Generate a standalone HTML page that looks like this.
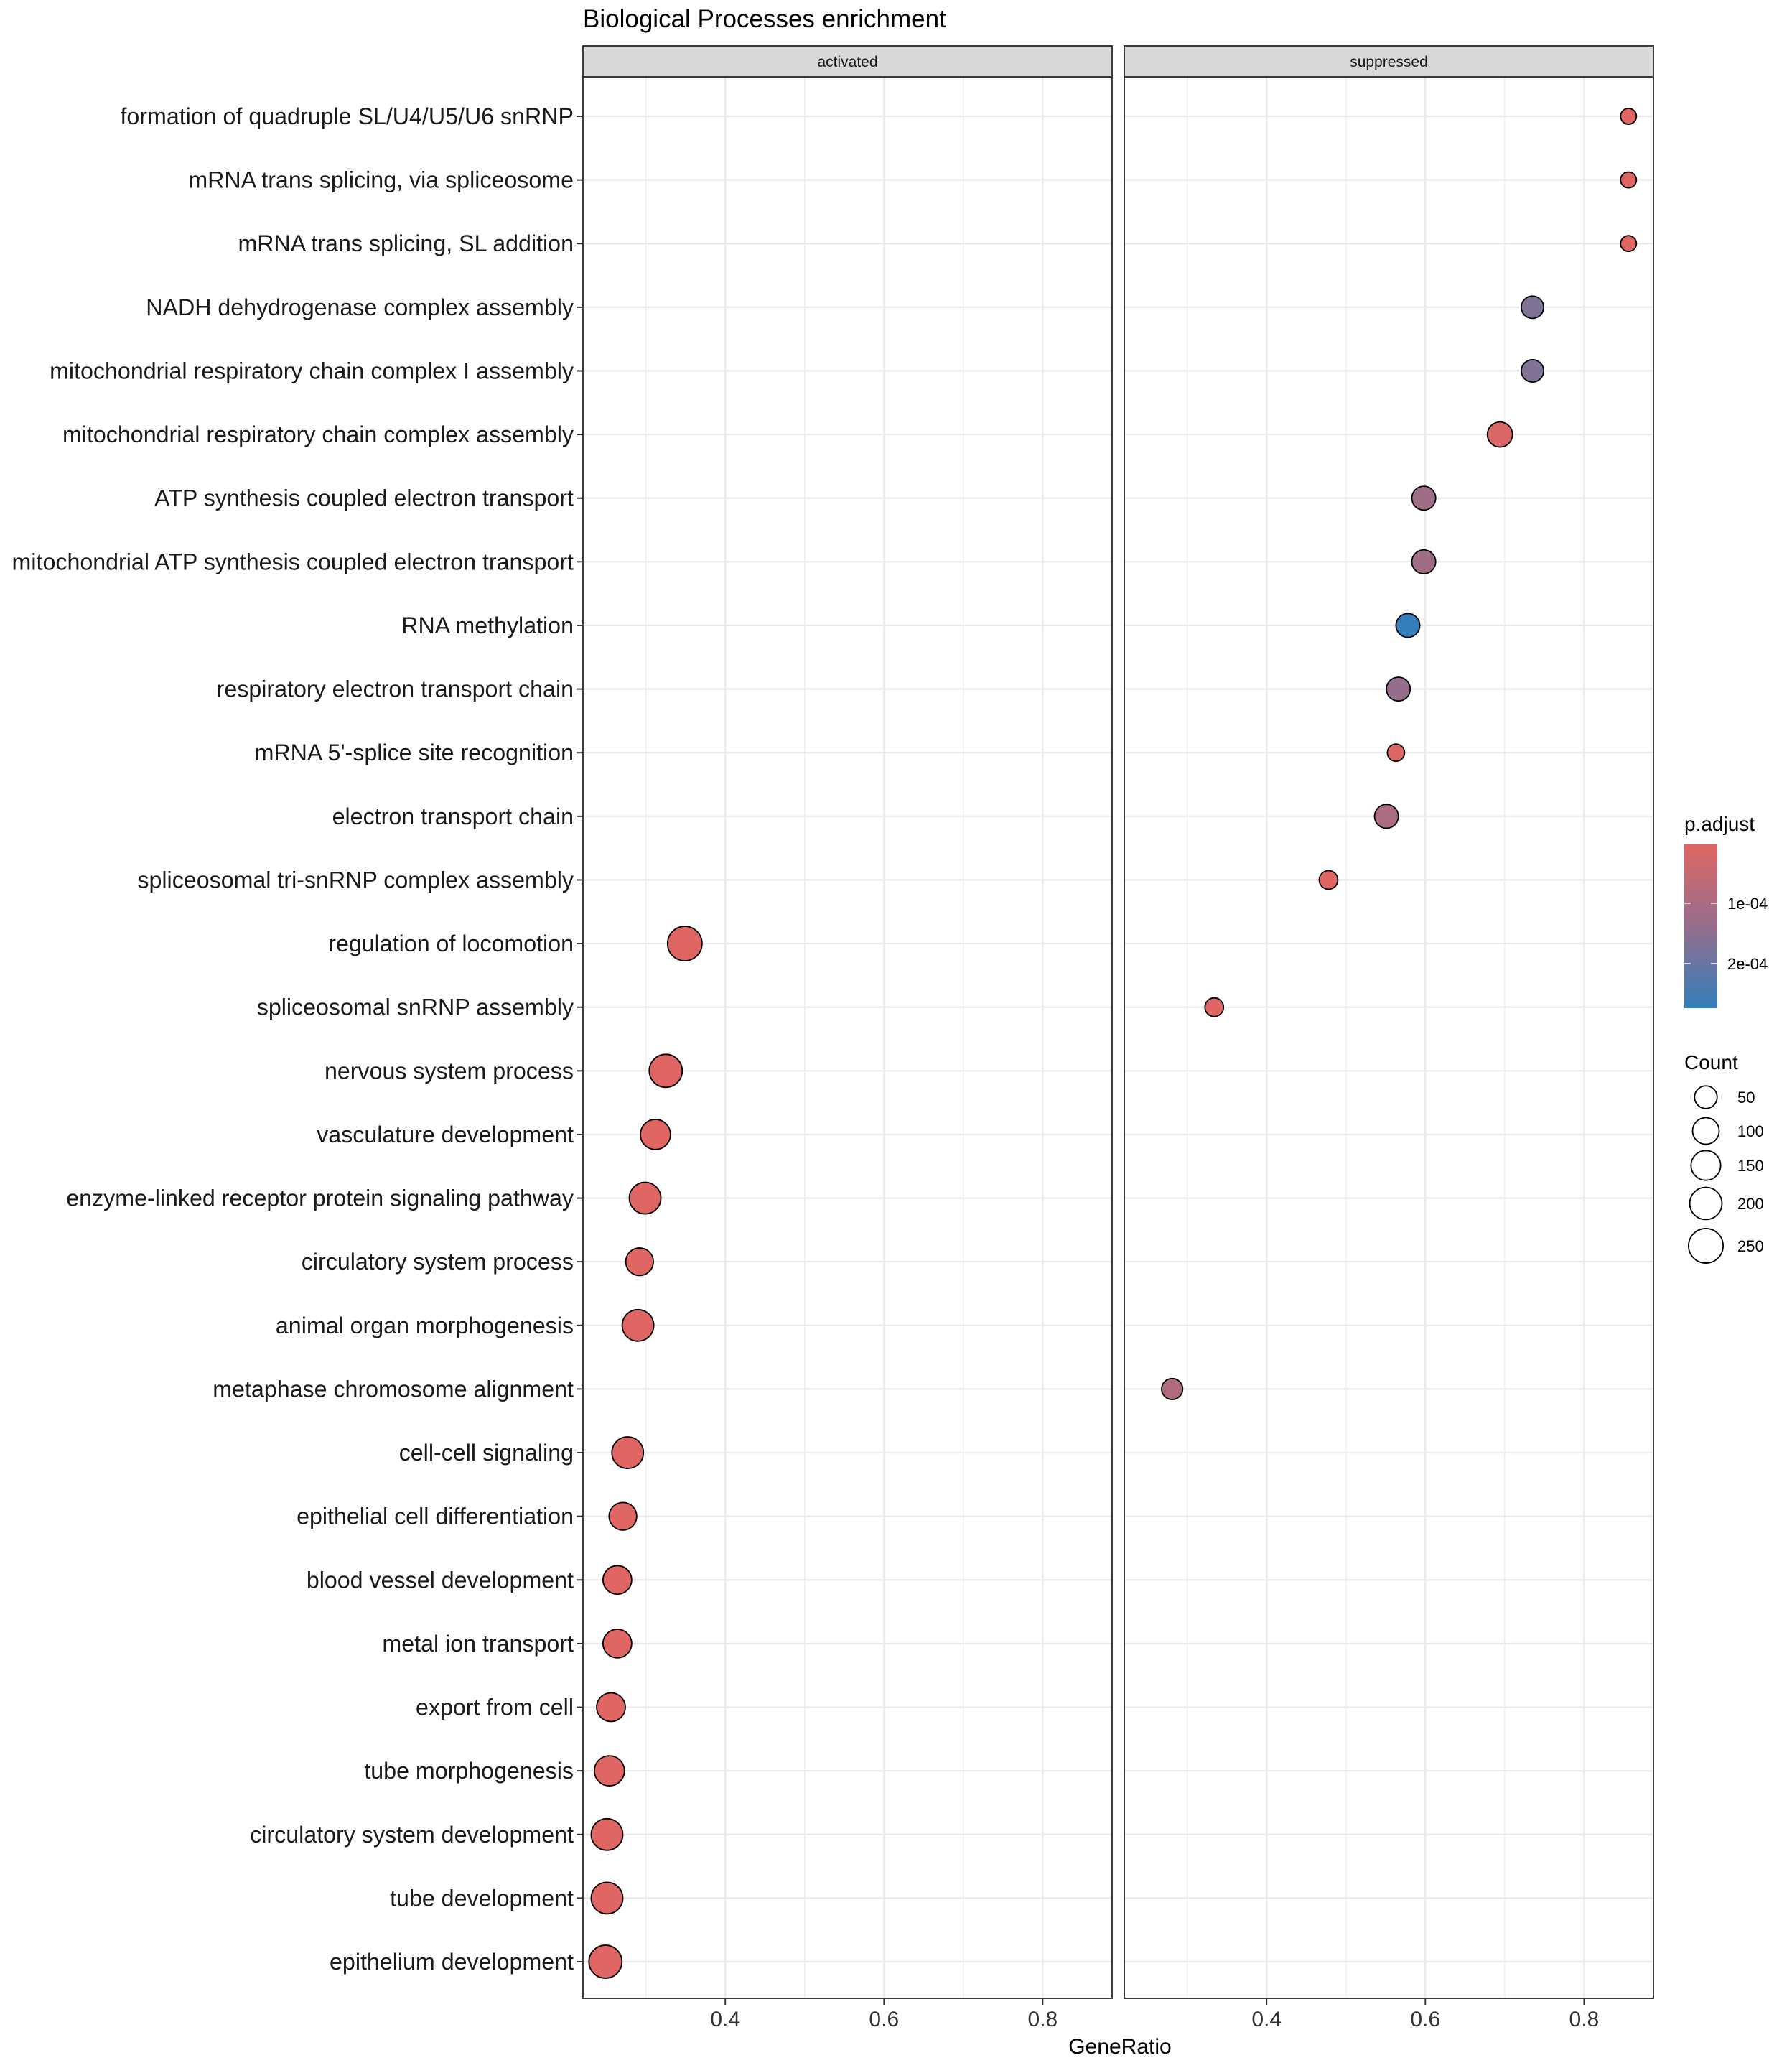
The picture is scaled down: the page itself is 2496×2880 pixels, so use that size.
<!DOCTYPE html>
<html><head><meta charset="utf-8"><style>
html,body{margin:0;padding:0;background:#fff;}
svg{display:block;font-family:"Liberation Sans",Arial,sans-serif;}
</style></head><body>
<svg id="chart" width="2496" height="2880" viewBox="0 0 2496 2880" xmlns="http://www.w3.org/2000/svg">
<rect x="0" y="0" width="2496" height="2880" fill="#fff"/>
<text x="812" y="38" font-size="35" fill="#000">Biological Processes enrichment</text>
</svg>
<script>
const categories = ["formation of quadruple SL/U4/U5/U6 snRNP","mRNA trans splicing, via spliceosome","mRNA trans splicing, SL addition","NADH dehydrogenase complex assembly","mitochondrial respiratory chain complex I assembly","mitochondrial respiratory chain complex assembly","ATP synthesis coupled electron transport","mitochondrial ATP synthesis coupled electron transport","RNA methylation","respiratory electron transport chain","mRNA 5'-splice site recognition","electron transport chain","spliceosomal tri-snRNP complex assembly","regulation of locomotion","spliceosomal snRNP assembly","nervous system process","vasculature development","enzyme-linked receptor protein signaling pathway","circulatory system process","animal organ morphogenesis","metaphase chromosome alignment","cell-cell signaling","epithelial cell differentiation","blood vessel development","metal ion transport","export from cell","tube morphogenesis","circulatory system development","tube development","epithelium development"];
const panels = ["activated","suppressed"];
const pointCategory = ["formation of quadruple SL/U4/U5/U6 snRNP","mRNA trans splicing, via spliceosome","mRNA trans splicing, SL addition","NADH dehydrogenase complex assembly","mitochondrial respiratory chain complex I assembly","mitochondrial respiratory chain complex assembly","ATP synthesis coupled electron transport","mitochondrial ATP synthesis coupled electron transport","RNA methylation","respiratory electron transport chain","mRNA 5'-splice site recognition","electron transport chain","spliceosomal tri-snRNP complex assembly","regulation of locomotion","spliceosomal snRNP assembly","nervous system process","vasculature development","enzyme-linked receptor protein signaling pathway","circulatory system process","animal organ morphogenesis","metaphase chromosome alignment","cell-cell signaling","epithelial cell differentiation","blood vessel development","metal ion transport","export from cell","tube morphogenesis","circulatory system development","tube development","epithelium development"];
const pointPanel = ["suppressed","suppressed","suppressed","suppressed","suppressed","suppressed","suppressed","suppressed","suppressed","suppressed","suppressed","suppressed","suppressed","activated","suppressed","activated","activated","activated","activated","activated","suppressed","activated","activated","activated","activated","activated","activated","activated","activated","activated"];
const geneRatio = [0.856,0.856,0.856,0.735,0.735,0.694,0.598,0.598,0.578,0.566,0.563,0.551,0.478,0.349,0.334,0.325,0.312,0.299,0.292,0.290,0.281,0.277,0.271,0.264,0.264,0.256,0.254,0.251,0.251,0.249];
const countVals = [4,4,4,45,45,75,60,60,60,60,9,60,16,236,16,205,150,177,110,177,33,177,110,126,126,126,150,177,177,205];
const pAdjust = [0.000003,0.000003,0.000003,0.00017,0.00017,0.000012,0.00012,0.00012,0.00027,0.00014,0.000003,0.00010,0.000003,0.000003,0.000003,0.000003,0.000003,0.000003,0.000003,0.000003,0.00009,0.000003,0.000003,0.000003,0.000003,0.000003,0.000003,0.000003,0.000003,0.000003];
const xTicks = [0.4,0.6,0.8];
const xTickLabels = ["0.4","0.6","0.8"];
const xMinor = [0.3,0.5,0.7];
const colorTicks = [0.0001,0.0002];
const colorTickLabels = ["1e-04","2e-04"];
const sizeBreaks = [50,100,150,200,250];

const NS="http://www.w3.org/2000/svg";
const svg=document.getElementById('chart');
function mk(tag,attrs,parent){const e=document.createElementNS(NS,tag);for(const k in attrs)e.setAttribute(k,attrs[k]);(parent||svg).appendChild(e);return e;}

const panelX={activated:812,suppressed:1566};
const panelW=737, panelTop=107, panelBot=2783, stripTop=64;
const xDom=[0.2207,0.8874];
function xScale(panel,v){return panelX[panel]+(v-xDom[0])/(xDom[1]-xDom[0])*panelW;}
const yFirst=162, yStep=(2732-162)/29;
function yScale(cat){return yFirst+categories.indexOf(cat)*yStep;}
function rScale(c){return 9.1+0.97*Math.sqrt(c);}
const pMin=0.0000024, pMax=0.000274;
const lo=[224,102,99], mid=[150,110,140], hi=[50,126,186];
function colorScale(p){let t=(p-pMin)/(pMax-pMin);t=Math.max(0,Math.min(1,t));
  let a,b,u; if(t<0.5){a=lo;b=mid;u=t*2;}else{a=mid;b=hi;u=(t-0.5)*2;}
  const c=a.map((x,i)=>Math.round(x+(b[i]-x)*u));return `rgb(${c[0]},${c[1]},${c[2]})`;}
function pToY(p){return 1176+(p-pMin)/(pMax-pMin)*(1404-1176);}

panels.forEach(pn=>{
  const g=mk('g',{});
  
  
  const px=panelX[pn];
  mk('rect',{x:px,y:panelTop,width:panelW,height:panelBot-panelTop,fill:'#fff'},g);
  xMinor.forEach(v=>{mk('line',{x1:xScale(pn,v),x2:xScale(pn,v),y1:panelTop,y2:panelBot,stroke:'#ebebeb','stroke-width':1.2},g);});
  xTicks.forEach(v=>{mk('line',{x1:xScale(pn,v),x2:xScale(pn,v),y1:panelTop,y2:panelBot,stroke:'#ebebeb','stroke-width':2.4},g);});
  categories.forEach(c=>{mk('line',{x1:px,x2:px+panelW,y1:yScale(c),y2:yScale(c),stroke:'#ebebeb','stroke-width':2.4},g);});
  mk('rect',{x:px,y:panelTop,width:panelW,height:panelBot-panelTop,fill:'none',stroke:'#333','stroke-width':1.9},g);
  const strip=mk('rect',{x:px,y:stripTop,width:panelW,height:panelTop-stripTop,fill:'#d9d9d9',stroke:'#333','stroke-width':1.9},g);
  
  
  const st=mk('text',{x:px+panelW/2,y:93,'font-size':21,'text-anchor':'middle',fill:'#1a1a1a'},g);
  st.textContent=pn;
  
  
  xTicks.forEach((v,i)=>{
    const x=xScale(pn,v);
    mk('line',{x1:x,x2:x,y1:panelBot,y2:panelBot+9,stroke:'#333','stroke-width':1.9},g);
    const t=mk('text',{x:x,y:panelBot+39,'font-size':30,'text-anchor':'middle',fill:'#333'},g);
    t.textContent=xTickLabels[i];
    
    
  });
});

categories.forEach(c=>{
  const y=yScale(c);
  mk('line',{x1:803,x2:812,y1:y,y2:y,stroke:'#333','stroke-width':1.9});
  const t=mk('text',{x:799,y:y+11,'font-size':32.2,'text-anchor':'end',fill:'#1a1a1a'});
  t.textContent=c;
  
  
});

pointCategory.forEach((c,i)=>{
  const pt=mk('circle',{cx:xScale(pointPanel[i],geneRatio[i]),cy:yScale(c),r:rScale(countVals[i]),fill:colorScale(pAdjust[i]),stroke:'#000','stroke-width':1.8});
  
  
});

const xt=mk('text',{x:1560,y:2860,'font-size':30,'text-anchor':'middle',fill:'#000'});
xt.textContent='GeneRatio';



const lg=mk('g',{});


const lt=mk('text',{x:2346,y:1157,'font-size':28,fill:'#000'},lg);
lt.textContent='p.adjust';
const defs=mk('defs',{});
const grad=mk('linearGradient',{id:'pgrad',x1:0,y1:0,x2:0,y2:1},defs);
[0,0.25,0.5,0.75,1].forEach(o=>{mk('stop',{offset:o,'stop-color':colorScale(pMin+o*(pMax-pMin))},grad);});
mk('rect',{x:2346,y:1176,width:46,height:228,fill:'url(#pgrad)'},lg);
colorTicks.forEach((p,i)=>{
  const y=pToY(p);
  mk('line',{x1:2346,x2:2355,y1:y,y2:y,stroke:'#eee','stroke-width':1.5},lg);
  mk('line',{x1:2383,x2:2392,y1:y,y2:y,stroke:'#eee','stroke-width':1.5},lg);
  const t=mk('text',{x:2406,y:y+8,'font-size':22,fill:'#000'},lg);
  t.textContent=colorTickLabels[i];
  
  
});
const sg=mk('g',{});


const ct=mk('text',{x:2346,y:1489,'font-size':28,fill:'#000'},sg);
ct.textContent='Count';
const sizeY=[1528,1575,1623,1676,1735];
sizeBreaks.forEach((c,i)=>{
  const e=mk('circle',{cx:2376,cy:sizeY[i],r:rScale(c)*0.985,fill:'none',stroke:'#000','stroke-width':1.8},sg);
  
  
  const t=mk('text',{x:2420,y:sizeY[i]+8,'font-size':22,fill:'#000'},sg);
  t.textContent=String(c);
  
  
});
</script>
</body></html>
